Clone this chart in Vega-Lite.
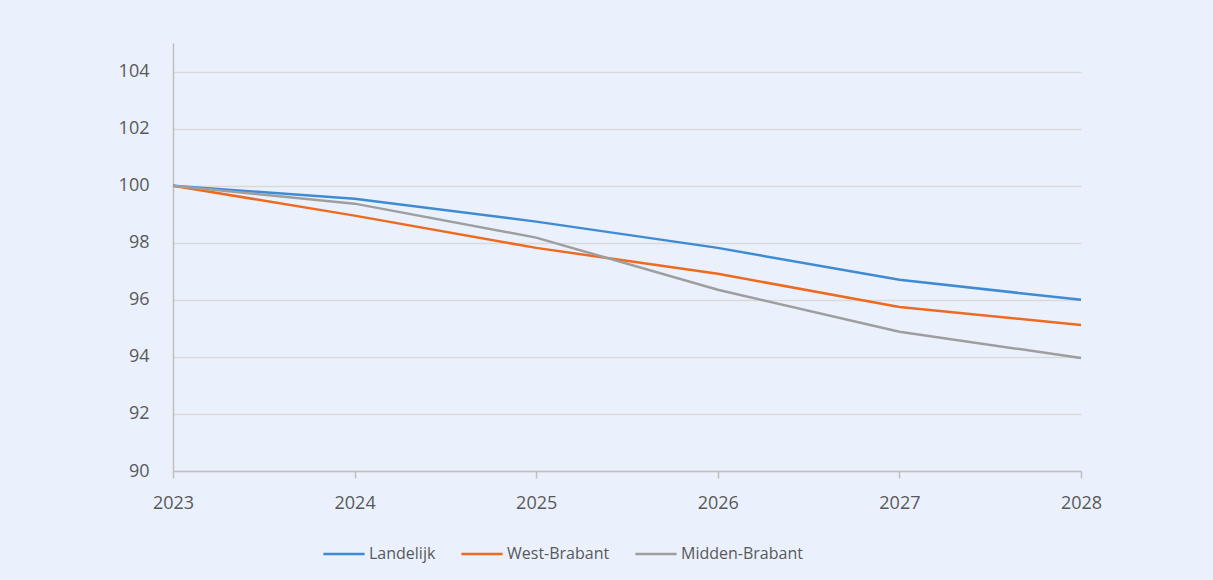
{
  "$schema": "https://vega.github.io/schema/vega-lite/v6.json",
  "autosize": {"type": "none"},
  "width": 908,
  "height": 428,
  "padding": {"left": 173, "top": 43, "right": 132, "bottom": 109},
  "background": "#EAF1FD",
  "config": {
    "view": {"stroke": null},
    "font": "Open Sans",
    "axis": {"labelColor": "#595959", "labelFont": "Open Sans", "domainColor": "#BFBFBF", "domainWidth": 1.5, "gridColor": "#D9D9D9", "gridWidth": 1.5}
  },
  "data": {
    "values": [
      {"jaar": 2023, "regio": "Landelijk", "index": 100},
      {"jaar": 2024, "regio": "Landelijk", "index": 99.54},
      {"jaar": 2025, "regio": "Landelijk", "index": 98.74},
      {"jaar": 2026, "regio": "Landelijk", "index": 97.82},
      {"jaar": 2027, "regio": "Landelijk", "index": 96.70},
      {"jaar": 2028, "regio": "Landelijk", "index": 96.0},
      {"jaar": 2023, "regio": "West-Brabant", "index": 100},
      {"jaar": 2024, "regio": "West-Brabant", "index": 98.95},
      {"jaar": 2025, "regio": "West-Brabant", "index": 97.82},
      {"jaar": 2026, "regio": "West-Brabant", "index": 96.91},
      {"jaar": 2027, "regio": "West-Brabant", "index": 95.75},
      {"jaar": 2028, "regio": "West-Brabant", "index": 95.12},
      {"jaar": 2023, "regio": "Midden-Brabant", "index": 100},
      {"jaar": 2024, "regio": "Midden-Brabant", "index": 99.37},
      {"jaar": 2025, "regio": "Midden-Brabant", "index": 98.18},
      {"jaar": 2026, "regio": "Midden-Brabant", "index": 96.35},
      {"jaar": 2027, "regio": "Midden-Brabant", "index": 94.88},
      {"jaar": 2028, "regio": "Midden-Brabant", "index": 93.96}
    ]
  },
  "mark": {"type": "line", "strokeWidth": 2.5},
  "encoding": {
    "x": {
      "field": "jaar", "type": "ordinal",
      "scale": {"type": "point", "padding": 0},
      "axis": {"title": null, "labelAngle": 0, "labelFontSize": 18, "tickSize": 7, "tickColor": "#BFBFBF", "tickWidth": 1.5, "labelPadding": 16, "grid": false}
    },
    "y": {
      "field": "index", "type": "quantitative",
      "scale": {"domain": [90, 105], "nice": false, "zero": false},
      "axis": {"title": null, "values": [90, 92, 94, 96, 98, 100, 102, 104], "labelFontSize": 18, "ticks": false, "labelPadding": 24, "grid": true}
    },
    "color": {
      "field": "regio", "type": "nominal",
      "scale": {"domain": ["Landelijk", "West-Brabant", "Midden-Brabant"], "range": ["#3E8BD4", "#EE6A1F", "#9E9E9E"]},
      "legend": {
        "title": null, "orient": "none", "direction": "horizontal",
        "legendX": 149, "legendY": 489,
        "symbolType": "stroke", "symbolSize": 1700, "symbolStrokeWidth": 2.5,
        "labelFontSize": 16, "labelColor": "#595959", "labelOffset": 3,
        "columnPadding": 20
      }
    }
  }
}
